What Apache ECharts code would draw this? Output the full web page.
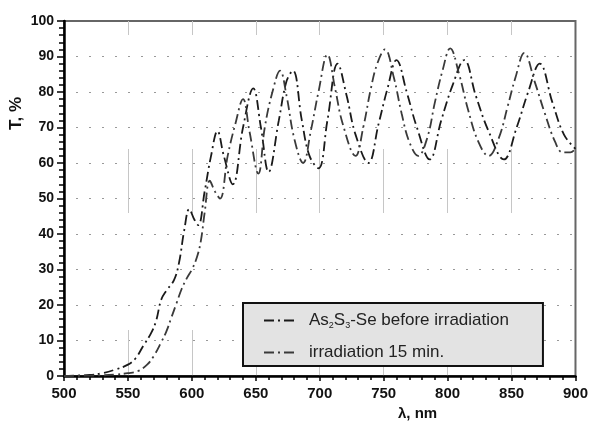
<!DOCTYPE html>
<html>
<head>
<meta charset="utf-8">
<script src="https://cdn.jsdelivr.net/npm/echarts@6/dist/echarts.min.js"></script>
<style>
  html, body { margin: 0; padding: 0; background: #fff; }
  #chart { width: 591px; height: 425px; }
</style>
</head>
<body>
<div id="chart"></div>
<script>
// Transmission spectra, values
const seriesNames = ['As2S3-Se before irradiation', 'irradiation 15 min.'];

// before irradiation (edge rises first)
const beforeWl = [500, 520, 530, 540, 550, 556, 562, 568, 572, 576, 580, 586, 590, 594, 598, 602, 605,
  610, 615, 620, 625, 632, 640, 648, 654, 660, 668, 674, 679, 686, 692, 699, 706, 714, 721, 728,
  738, 746, 753, 760, 768, 776, 786, 795, 804, 813, 822, 832, 844, 854, 863, 872, 882, 891, 900];
const beforeT = [0, 0.3, 0.8, 1.8, 3.2, 5, 8.5, 12, 15.5, 21.5, 24, 27, 32, 41, 47, 44, 42.5,
  52, 62, 69, 62, 54, 70, 81, 70, 57.5, 72, 83, 86, 72, 62, 58.5, 72, 88, 79, 68,
  60, 71, 81, 89, 80, 70, 61, 72, 82, 89, 79, 69, 61, 70, 80, 88, 77, 68, 64];

// after 15 min irradiation
const irrWl = [500, 530, 540, 550, 558, 565, 570, 576, 580, 584, 588, 592, 596, 600, 604, 607, 610,
  614, 618, 622, 628, 634, 640, 645, 652, 657, 663, 669, 674, 680, 687, 693, 699, 706, 712, 718,
  728, 734, 740, 745, 751, 758, 764, 770, 777, 784, 790, 796, 802, 809, 816, 824, 832, 840, 847,
  853, 860, 868, 876, 884, 890, 896, 900];
const irrT = [0, 0.2, 0.4, 0.8, 1.4, 3.2, 5.5, 9.5, 12.5, 16.5, 20.5, 24.5, 27.5, 30, 33.5, 38, 46,
  55, 52, 50, 62, 71, 78, 69, 57, 70, 80, 86, 79, 67, 60, 69, 80, 90.5, 81, 71,
  62, 70, 81, 88, 92, 84, 74, 66, 62, 67, 77, 86, 92.3, 85, 75, 66, 62, 67, 76,
  84, 91, 83, 74, 66, 63, 63, 64];

const xMin = 500, xMax = 900, xStep = 50;
const yMin = 0, yMax = 100, yStep = 10;

function pairs(xs, ys) {
  return xs.map((x, i) => [x, ys[i]]);
}

const chart = echarts.init(document.getElementById('chart'));

const tickFont = { fontFamily: 'Liberation Sans', fontWeight: 'bold', color: '#111' };

chart.setOption({
  animation: false,
  backgroundColor: '#fff',
  color: ['#1a1a1a', '#333'],
  grid: {
    left: 64, right: 15, top: 21, bottom: 49,
    show: true, borderColor: '#666', borderWidth: 2, backgroundColor: 'transparent'
  },
  xAxis: {
    type: 'value', min: xMin, max: xMax, interval: xStep,
    axisLine: { show: true, lineStyle: { color: '#000', width: 2.5 } },
    axisTick: { show: true, inside: false, length: 5, lineStyle: { color: '#000', width: 1.5 } },
    minorTick: { show: true, splitNumber: 5, length: 4, lineStyle: { color: '#000', width: 1.5 } },
    axisLabel: Object.assign({ margin: 10, fontSize: 15 }, tickFont),
    splitLine: {
      show: true, showMinLine: false, showMaxLine: false,
      lineStyle: { color: '#c6c6c6', width: 1, type: [14, 114, 64, 117, 46, 20] }
    }
  },
  yAxis: {
    type: 'value', min: yMin, max: yMax, interval: yStep,
    axisLine: { show: true, lineStyle: { color: '#000', width: 2.5 } },
    axisTick: { show: true, inside: false, length: 7, lineStyle: { color: '#000', width: 1.5 } },
    minorTick: { show: true, splitNumber: 5, length: 5, lineStyle: { color: '#000', width: 1.5 } },
    axisLabel: Object.assign({ margin: 10, fontSize: 14 }, tickFont),
    splitLine: {
      show: true, showMinLine: false, showMaxLine: false,
      lineStyle: { color: '#999', width: 1, type: [2, 11], dashOffset: -12 }
    }
  },
  legend: {
    orient: 'vertical',
    left: 243, top: 303,
    padding: [9, 34, 5, 20],
    itemGap: 14,
    itemWidth: 34, itemHeight: 14,
    backgroundColor: '#e3e3e3',
    borderColor: '#111', borderWidth: 2, borderRadius: 0,
    itemStyle: { opacity: 0 },
    data: seriesNames,
    formatter: function (name) {
      return name === seriesNames[0] ? 'As{sub|2}S{sub|3}-Se before irradiation' : name;
    },
    textStyle: {
      fontFamily: 'Liberation Sans', fontSize: 17, color: '#222', padding: [0, 0, 0, 6],
      rich: {
        sub: { fontFamily: 'Liberation Sans', fontSize: 9, color: '#222', padding: [10, 0, 0, 0] }
      }
    }
  },
  graphic: [
    {
      type: 'text', left: 8, top: 97, rotation: Math.PI / 2,
      style: { text: 'T, %', font: 'bold 17px "Liberation Sans"', fill: '#111' }
    },
    {
      type: 'text', left: 398, top: 406,
      style: { text: 'λ, nm', font: 'bold 15px "Liberation Sans"', fill: '#111' }
    }
  ],
  series: [
    {
      name: seriesNames[0], type: 'line', data: pairs(beforeWl, beforeT),
      smooth: 0.4, symbol: 'none',
      itemStyle: { color: '#1a1a1a' },
      lineStyle: { color: '#1a1a1a', width: 1.8, type: [10, 4, 2, 4] }
    },
    {
      name: seriesNames[1], type: 'line', data: pairs(irrWl, irrT),
      smooth: 0.4, symbol: 'none',
      itemStyle: { color: '#3a3a3a' },
      lineStyle: { color: '#3a3a3a', width: 1.8, type: [10, 4, 2, 4] }
    }
  ]
});
</script>
</body>
</html>
